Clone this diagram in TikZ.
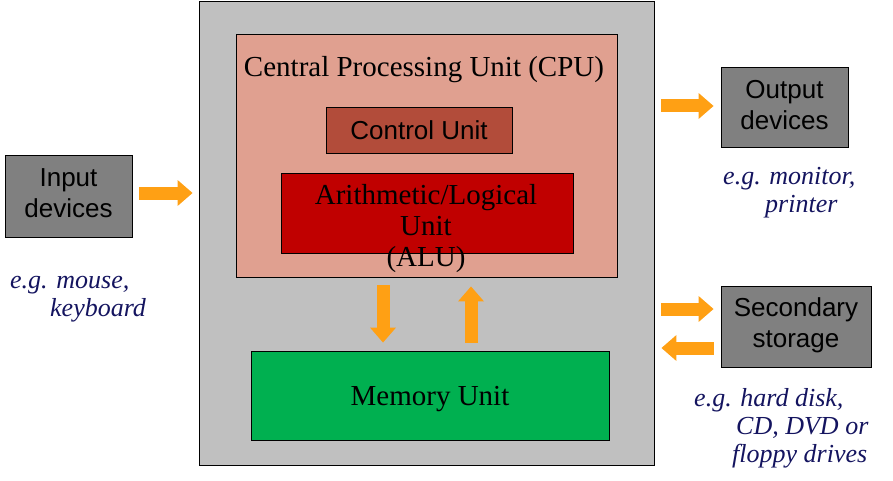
\documentclass[tikz,border=0pt]{standalone}
\usepackage{fontspec}
\setmainfont{Liberation Serif}
\newfontfamily\sansf{Liberation Sans}
\usetikzlibrary{arrows.meta,calc}
\definecolor{outergray}{RGB}{192,192,192}
\definecolor{cpufill}{RGB}{224,160,144}
\definecolor{ctrlfill}{RGB}{178,76,58}
\definecolor{alufill}{RGB}{192,0,0}
\definecolor{memfill}{RGB}{0,176,80}
\definecolor{iogray}{RGB}{128,128,128}
\definecolor{arroworange}{RGB}{255,160,20}
\definecolor{navytext}{RGB}{20,20,95}
\tikzset{
  box/.style={draw=black, line width=0.8pt, rectangle, inner sep=0pt},
  iobox/.style={box, fill=iogray, font=\sansf\fontsize{26}{31}\selectfont, align=center},
  serifbig/.style={font=\fontsize{29}{31}\selectfont},
  note/.style={font=\itshape\fontsize{26}{28}\selectfont, text=navytext, align=left, inner sep=0pt, anchor=base west},
  blockarrow/.style={draw=arroworange, line width=13pt, -{Triangle[width=25pt,length=15pt]}}
}
\begin{document}
\begin{tikzpicture}[x=1pt,y=-1pt]
\useasboundingbox (0,0) rectangle (893,481);
% main boxes
\node[box, fill=outergray, minimum width=455pt, minimum height=464pt] (outer) at (426.5,233) {};
\node[box, fill=cpufill, minimum width=381pt, minimum height=243pt] (cpu) at (426.5,155.5) {};
\node[serifbig, inner sep=0pt, anchor=base] (cputitle) at (424,77) {Central Processing Unit (CPU)};
\node[box, fill=ctrlfill, minimum width=186pt, minimum height=46pt, font=\sansf\fontsize{26}{31}\selectfont, text depth=0pt] (ctrl) at (419,130) {Control Unit};
\node[box, fill=alufill, minimum width=292pt, minimum height=80pt] (alu) at (427,213) {};
\node[serifbig, inner sep=0pt, anchor=base, align=center] (alutext) at (426,266) {Arithmetic/Logical\\Unit\\(ALU)};
\node[box, fill=memfill, minimum width=358pt, minimum height=89pt, serifbig, text depth=0pt] (mem) at (430,395.5) {Memory Unit};
% peripherals
\node[iobox, minimum width=127pt, minimum height=82pt, text depth=6pt] (in) at (68.5,196) {Input\\devices};
\node[iobox, minimum width=127pt, minimum height=80pt, text depth=5pt] (out) at (784.5,107) {Output\\devices};
\node[iobox, minimum width=150pt, minimum height=81pt, text depth=7pt] (sec) at (796,326.5) {Secondary\\storage};
% notes
\node[note] (innote) at (10,316) {e.g. mouse,\\\hspace*{40pt}keyboard};
\node[note] (outnote) at (723,212) {e.g. monitor,\\\hspace*{42pt}printer};
\node[note] (secnote) at (694,462) {e.g. hard disk,\\\hspace*{42pt}CD, DVD or\\\hspace*{38pt}floppy drives};
% arrows
\draw[blockarrow] ($(in.east)+(7,-3)$) -- ($(outer.west |- in.east)+(-6,-3)$);
\draw[blockarrow] ($(outer.east |- out.west)+(7,-1)$) -- ($(out.west)+(-7,-1)$);
\draw[blockarrow] ($(outer.east |- sec.west)+(7,-17.5)$) -- ($(sec.west)+(-7,-17.5)$);
\draw[blockarrow] ($(sec.west)+(-7,21.5)$) -- ($(outer.east |- sec.west)+(7,21.5)$);
\draw[blockarrow] ($(cpu.south)+(-43.5,8)$) -- ($(mem.north -| cpu.south)+(-43.5,-8)$);
\draw[blockarrow] ($(mem.north -| cpu.south)+(44.5,-8)$) -- ($(cpu.south)+(44.5,9)$);
\end{tikzpicture}
\end{document}
